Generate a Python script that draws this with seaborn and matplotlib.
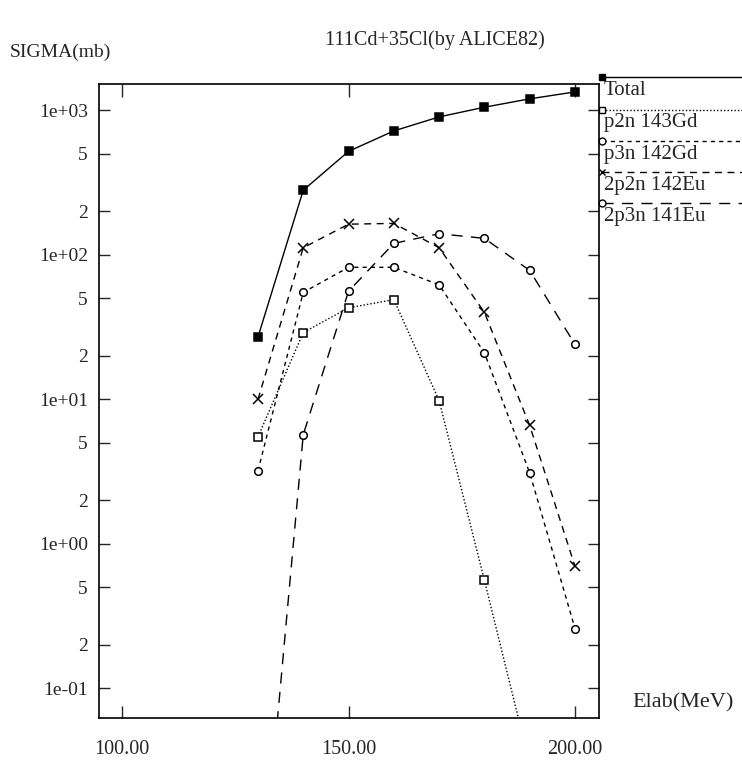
import matplotlib
matplotlib.use("Agg")
import matplotlib.pyplot as plt
import seaborn as sns
import pandas as pd

# Beam energies (MeV) and ALICE82 cross sections (mb)
elab = [130, 140, 150, 160, 170, 180, 190, 200]
total = [27, 280, 520, 720, 900, 1050, 1200, 1340]
p2n_143gd = [5.5, 29, 43, 49, 9.8, 0.56, 0.03]
p3n_142gd = [3.2, 55, 82, 82, 62, 21, 3.1, 0.26]
p2p2n_142eu = [10, 112, 163, 165, 112, 40, 6.6, 0.70]
p2p3n_141eu = [0.002, 5.7, 56, 120, 140, 130, 78, 24]

series_names = ["Total", "p2n 143Gd", "p3n 142Gd", "2p2n 142Eu", "2p3n 141Eu"]
series_values = [total, p2n_143gd, p3n_142gd, p2p2n_142eu, p2p3n_141eu]

y_ticks = [0.1, 0.2, 0.5, 1, 2, 5, 10, 20, 50, 100, 200, 500, 1000]
y_tick_labels = ["1e-01", "2", "5", "1e+00", "2", "5", "1e+01", "2", "5",
                 "1e+02", "2", "5", "1e+03"]
x_ticks = [100, 150, 200]
x_tick_labels = ["100.00", "150.00", "200.00"]

sns.set_style("ticks")
plt.rcParams["font.family"] = ["Liberation Serif", "DejaVu Serif"]

styles = [
    dict(marker="s", linestyle="-", mfc="black", ms=5.5),
    dict(marker="s", linestyle=(0, (1, 1.5)), mfc="white", ms=5.5),
    dict(marker="o", linestyle=(0, (3, 3)), mfc="white", ms=5.5),
    dict(marker="x", linestyle=(0, (5, 4)), mfc="black", ms=7),
    dict(marker="o", linestyle=(0, (8, 6)), mfc="white", ms=5.5),
]

W, H = 742, 760
fig = plt.figure(figsize=(W / 100, H / 100), dpi=100)
ax = fig.add_axes([99 / W, 1 - 718 / H, 500 / W, 634 / H])

rows = []
for name, vals in zip(series_names, series_values):
    for e, v in zip(elab, vals):
        rows.append({"Elab": e, "sigma": v, "reaction": name})
df = pd.DataFrame(rows)

for name, st in zip(series_names, styles):
    sub = df[df["reaction"] == name]
    sns.lineplot(data=sub, x="Elab", y="sigma", ax=ax, color="black",
                 linewidth=1.0, marker=st["marker"], linestyle=st["linestyle"],
                 markersize=st["ms"], markerfacecolor=st["mfc"],
                 markeredgecolor="black", markeredgewidth=1.1,
                 sort=False, estimator=None, legend=False)

ax.set_yscale("log")
ax.set_xlim(94.9, 205.3)
ax.set_ylim(0.0625, 1520)
ax.set_yticks(y_ticks)
ax.set_yticklabels(y_tick_labels)
ax.set_xticks(x_ticks)
ax.set_xticklabels(x_tick_labels)
ax.minorticks_off()
ax.tick_params(axis="y", which="both", direction="in", length=8, width=1,
               left=True, right=True, labelsize=14, pad=8)
ax.tick_params(axis="x", which="both", direction="in", length=9, width=1,
               bottom=True, top=True, labelsize=14.5, pad=16)
ax.set_xlabel("")
ax.set_ylabel("")
for sp in ax.spines.values():
    sp.set_linewidth(1.2)
    sp.set_color("black")

# Key drawn to the right of the frame: line with marker, name underneath
key_y = [1.011, 0.959, 0.910, 0.861, 0.812]
x_end = (W - 99) / 500
for name, st, ky in zip(series_names, styles, key_y):
    ax.plot([1.006, x_end], [ky, ky], transform=ax.transAxes, clip_on=False,
            color="black", linewidth=1.0, linestyle=st["linestyle"],
            marker=st["marker"], markevery=[0], markersize=5,
            markerfacecolor=st["mfc"], markeredgecolor="black")
    ax.text(1.01, ky - 13 / 634, name, transform=ax.transAxes,
            ha="left", va="center", fontsize=15)

fig.text(435 / W, 1 - 40 / H, "111Cd+35Cl(by ALICE82)", ha="center",
         va="center", fontsize=14.5)
fig.text(10 / W, 1 - 52 / H, "SIGMA(mb)", ha="left", va="center", fontsize=14)
fig.text(632 / W, 1 - 703 / H, "Elab(MeV)", ha="left", va="center", fontsize=16)

fig.savefig("out.png", dpi=100)
